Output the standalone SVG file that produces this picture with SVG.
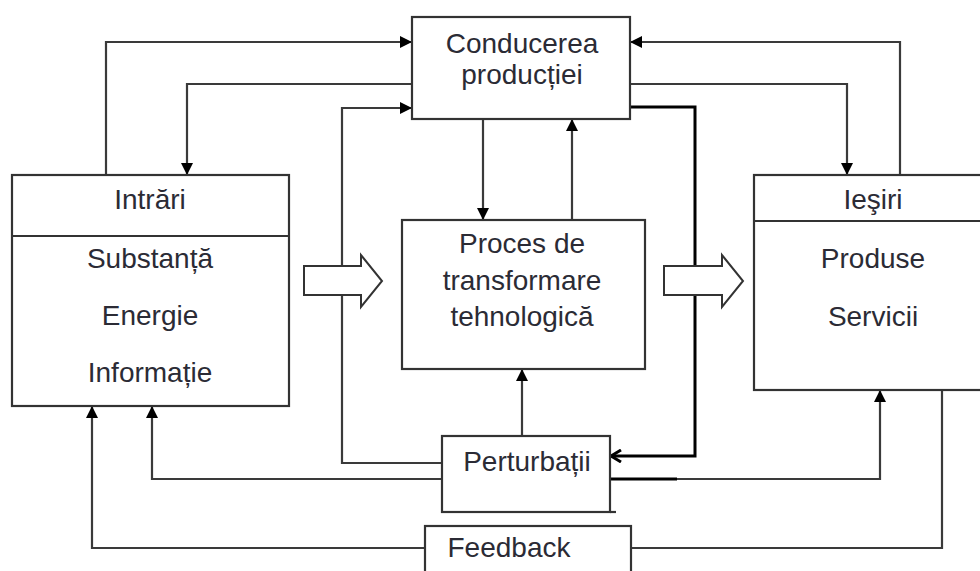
<svg xmlns="http://www.w3.org/2000/svg" width="980" height="571" viewBox="0 0 980 571">
<defs>
<style>
.box{fill:#fff;stroke:#333;stroke-width:2.2}
.t{font-family:"Liberation Sans",Arial,sans-serif;font-size:28px;fill:#2b2b35;text-anchor:middle}
.c{fill:none;stroke:#3a3a3a;stroke-width:2.2}
.k{fill:none;stroke:#000;stroke-width:3}
.hollow{fill:#fff;stroke:#333;stroke-width:2}
</style>
<marker id="ah" markerWidth="12" markerHeight="12" refX="11" refY="6" orient="auto" markerUnits="userSpaceOnUse">
<path d="M0,0 L12,6 L0,12 Z" fill="#000"/>
</marker>
<marker id="chev" markerWidth="14" markerHeight="14" refX="12" refY="7" orient="auto" markerUnits="userSpaceOnUse">
<path d="M2,1 L12,7 L2,13" fill="none" stroke="#000" stroke-width="3"/>
</marker>
</defs>
<rect width="980" height="571" fill="#fff"/>
<g id="connectors">
<path class="c" d="M106,175 V42 H411" marker-end="url(#ah)"/>
<path class="c" d="M412,84 H187 V174" marker-end="url(#ah)"/>
<path class="c" d="M442,463 H342 V108 H411" marker-end="url(#ah)"/>
<path class="c" d="M483,119 V219" marker-end="url(#ah)"/>
<path class="c" d="M572,220 V120" marker-end="url(#ah)"/>
<path class="c" d="M522,436 V370" marker-end="url(#ah)"/>
<path class="c" d="M900,175 V42 H631" marker-end="url(#ah)"/>
<path class="c" d="M630,84 H847 V174" marker-end="url(#ah)"/>
<path class="k" d="M630,107 H695 V456 H611" marker-end="url(#chev)"/>
<path class="c" d="M442,479 H152 V407" marker-end="url(#ah)"/>
<path class="c" d="M677,479 H880 V391" marker-end="url(#ah)"/>
<path class="k" d="M610,479 H677"/>
<path class="c" d="M942,390 V548 H631"/>
<path class="c" d="M425,548 H92 V407" marker-end="url(#ah)"/>
</g>
<g id="conducerea">
<rect class="box" x="412" y="17" width="218" height="102"/>
<text class="t" x="522" y="53">Conducerea</text>
<text class="t" x="522" y="84">producției</text>
</g>
<g id="intrari">
<rect class="box" x="12" y="175" width="277" height="231"/>
<line class="box" x1="12" y1="236" x2="289" y2="236"/>
<text class="t" x="150" y="209">Intrări</text>
<text class="t" x="150" y="268">Substanță</text>
<text class="t" x="150" y="325">Energie</text>
<text class="t" x="150" y="382">Informație</text>
</g>
<g id="proces">
<rect class="box" x="402" y="220" width="243" height="149"/>
<text class="t" x="522" y="253">Proces de</text>
<text class="t" x="522" y="290">transformare</text>
<text class="t" x="522" y="326">tehnologică</text>
</g>
<g id="iesiri">
<rect class="box" x="754" y="175" width="240" height="215"/>
<line class="box" x1="754" y1="221" x2="994" y2="221"/>
<text class="t" x="873" y="209">Ieşiri</text>
<text class="t" x="873" y="268">Produse</text>
<text class="t" x="873" y="326">Servicii</text>
</g>
<g id="arrow-in">
<path class="hollow" d="M304,266 H361 V255 L382,281 L361,307 V295 H304 Z"/>
</g>
<g id="arrow-out">
<path class="hollow" d="M664,266 H722 V255 L743,281 L722,307 V295 H664 Z"/>
</g>
<g id="perturbatii">
<rect class="box" x="442" y="436" width="168" height="76"/>
<line class="box" x1="610" y1="512" x2="616" y2="512"/>
<text class="t" x="527" y="471">Perturbații</text>
</g>
<g id="feedback">
<rect class="box" x="425" y="526" width="206" height="70"/>
<text class="t" x="509" y="557">Feedback</text>
</g>
</svg>
